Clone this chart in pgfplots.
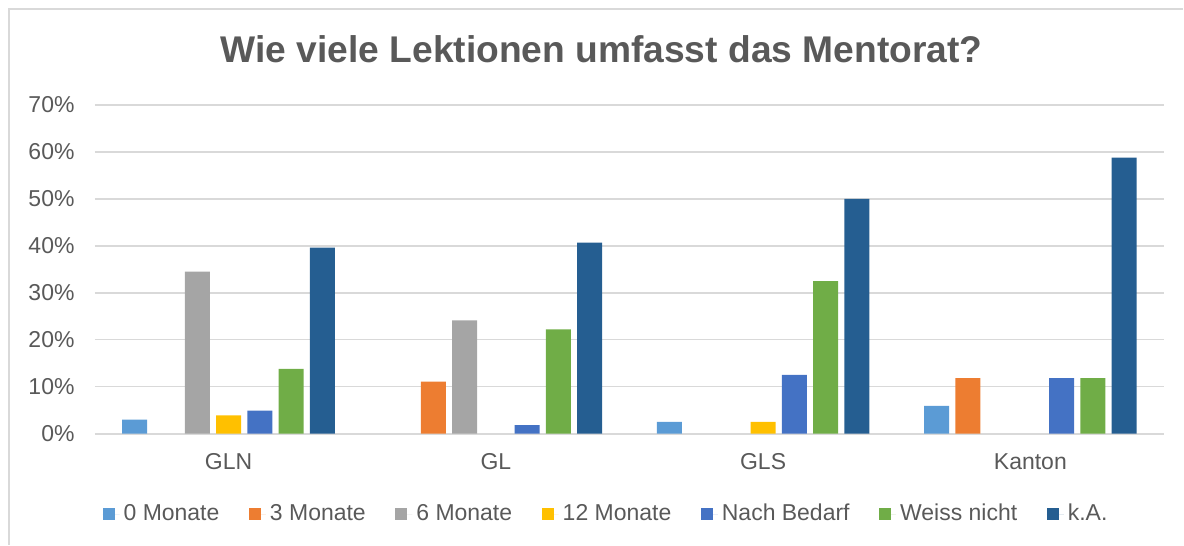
\documentclass[border=0pt]{standalone}
\usepackage{fontspec}
\setmainfont{Liberation Sans}
\usepackage{pgfplots}
\pgfplotsset{compat=1.18}
\definecolor{txt}{HTML}{595959}
\definecolor{gridc}{HTML}{D9D9D9}
\definecolor{c0}{HTML}{5B9BD5}
\definecolor{c3}{HTML}{ED7D31}
\definecolor{c6}{HTML}{A5A5A5}
\definecolor{c12}{HTML}{FFC000}
\definecolor{cnb}{HTML}{4472C4}
\definecolor{cwn}{HTML}{70AD47}
\definecolor{cka}{HTML}{255E91}
\pgfplotsset{sqleg/.style={legend image code/.code={%
    \fill[##1] (0pt,-3pt) rectangle (6pt,3pt);
    \path (0pt,0pt) -- (8.5pt,0pt);}}}

\begin{document}
\begin{tikzpicture}[x=1pt,y=1pt]
\path (0,0) rectangle (592,272.5);
\draw[gridc, line width=1pt] (4.5,0) -- (4.5,268) -- (592,268);
\node[anchor=base, text=txt, font=\fontsize{18.6}{22}\selectfont\bfseries] at (301,241) {Wie viele Lektionen umfasst das Mentorat?};
\begin{axis}[
    at={(47.5pt,55.5pt)}, anchor=south west,
    scale only axis, width=535pt, height=164.5pt,
    ybar=3.15pt, bar width=12.5pt,
    xmin=-0.5, xmax=3.5, ymin=0, ymax=70,
    xtick={0,1,2,3}, xticklabels={GLN,GL,GLS,Kanton},
    ytick={0,10,20,30,40,50,60,70},
    yticklabels={0\%,10\%,20\%,30\%,40\%,50\%,60\%,70\%},
    major tick length=0pt,
    ymajorgrids, grid style={draw=gridc, line width=0.75pt},
    axis x line*=bottom, axis y line*=left,
    x axis line style={draw=gridc, line width=1pt, -},
    y axis line style={draw=none},
    tick label style={font=\fontsize{11.5}{13}\selectfont, text=txt},
    yticklabel style={xshift=-6.7pt},
    xticklabel style={yshift=-6.5pt},
    legend style={at={(0.479,-0.2447)}, anchor=center, draw=none, fill=none,
        legend columns=7, font=\fontsize{11.5}{13}\selectfont, text=txt,
        /tikz/every even column/.append style={column sep=12.8pt}},
    legend cell align=left,
]
\addplot[fill=c0, draw=none, sqleg] coordinates {(0,3.0) (2,2.5) (3,5.9)};
\addplot[fill=c3, draw=none, sqleg] coordinates {(1,11.1) (3,11.8)};
\addplot[fill=c6, draw=none, sqleg] coordinates {(0,34.5) (1,24.1)};
\addplot[fill=c12, draw=none, sqleg] coordinates {(0,3.9) (2,2.5)};
\addplot[fill=cnb, draw=none, sqleg] coordinates {(0,4.9) (1,1.8) (2,12.5) (3,11.8)};
\addplot[fill=cwn, draw=none, sqleg] coordinates {(0,13.8) (1,22.2) (2,32.5) (3,11.8)};
\addplot[fill=cka, draw=none, sqleg] coordinates {(0,39.6) (1,40.7) (2,50.0) (3,58.8)};
\legend{0 Monate,3 Monate,6 Monate,12 Monate,Nach Bedarf,Weiss nicht,k.A.}
\end{axis}
\end{tikzpicture}
\end{document}
